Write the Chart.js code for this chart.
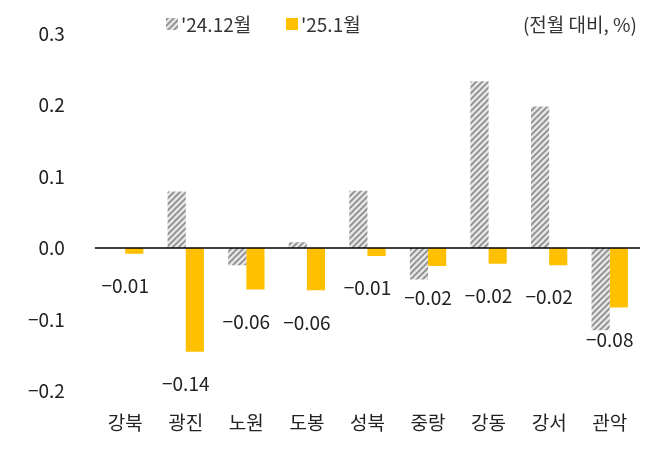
<!DOCTYPE html>
<html><head><meta charset="utf-8">
<script src="https://cdn.jsdelivr.net/npm/chart.js@4"></script>
<style>body{margin:0;background:#fff}#wrap{width:648px;height:460px}</style>
</head><body><div id="wrap"><canvas id="c"></canvas></div>
<script>
const categories = ["강북", "광진", "노원", "도봉", "성북", "중랑", "강동", "강서", "관악"];
const dec24 = [0, 0.079, -0.024, 0.008, 0.08, -0.044, 0.233, 0.198, -0.115];
const jan25 = [-0.008, -0.145, -0.058, -0.059, -0.011, -0.025, -0.022, -0.024, -0.083];
const jan25Labels = ["-0.01", "-0.14", "-0.06", "-0.06", "-0.01", "-0.02", "-0.02", "-0.02", "-0.08"];
const FONT = "'Noto Sans CJK KR', 'Noto Sans', sans-serif";

// diagonal hatch for the gray series
function hatch() {
  const p = document.createElement("canvas");
  p.width = 6; p.height = 6;
  const g = p.getContext("2d");
  g.fillStyle = "#e4e4e4"; g.fillRect(0, 0, 6, 6);
  g.strokeStyle = "#8c8c8c"; g.lineWidth = 1.6;
  g.beginPath();
  g.moveTo(-1, 7); g.lineTo(7, -1);
  g.moveTo(-1, 1); g.lineTo(1, -1);
  g.moveTo(5, 7); g.lineTo(7, 5);
  g.stroke();
  return g.createPattern(p, "repeat");
}
const hatchFill = hatch();

const extras = {
  id: "extras",
  afterDatasetsDraw(chart) {
    const ctx = chart.ctx, x = chart.scales.x, y = chart.scales.y;
    ctx.save();
    // zero line
    ctx.strokeStyle = "#000"; ctx.lineWidth = 1.5;
    ctx.beginPath(); ctx.moveTo(chart.chartArea.left, y.getPixelForValue(0));
    ctx.lineTo(chart.chartArea.right, y.getPixelForValue(0)); ctx.stroke();
    // value labels
    ctx.fillStyle = "#222"; ctx.font = "19px " + FONT;
    ctx.textAlign = "center"; ctx.textBaseline = "middle";
    jan25.forEach((v, i) => {
      ctx.fillText(jan25Labels[i].replace("-", "\u2212"), x.getPixelForValue(i), y.getPixelForValue(v) + 32);
    });
    // legend
    ctx.textAlign = "left";
    ctx.fillStyle = hatchFill; ctx.fillRect(166, 18, 12, 12);
    ctx.fillStyle = "#333"; ctx.fillText("'24.12월", 181, 25);
    ctx.fillStyle = "#ffc000"; ctx.fillRect(286, 18, 12, 12);
    ctx.fillStyle = "#333"; ctx.fillText("'25.1월", 301, 25);
    ctx.textAlign = "right"; ctx.fillText("(전월 대비, %)", 637, 25);
    ctx.restore();
  }
};

new Chart(document.getElementById("c"), {
  type: "bar",
  data: {
    labels: categories,
    datasets: [
      { label: "'24.12월", data: dec24, backgroundColor: hatchFill },
      { label: "'25.1월", data: jan25, backgroundColor: "#ffc000" }
    ]
  },
  options: {
    responsive: true, maintainAspectRatio: false, animation: false,
    layout: { padding: { top: 24, right: 8, left: 6, bottom: 6 } },
    datasets: { bar: { categoryPercentage: 0.6, barPercentage: 1 } },
    plugins: { legend: { display: false }, tooltip: { enabled: false } },
    scales: {
      x: {
        grid: { display: false, drawTicks: false },
        border: { display: false },
        ticks: { color: "#222", font: { family: FONT, size: 19 }, padding: 20 }
      },
      y: {
        min: -0.2, max: 0.3,
        grid: { display: false },
        border: { display: false },
        ticks: {
          stepSize: 0.1, color: "#222", font: { family: FONT, size: 19 }, padding: 22,
          callback: v => (Math.round(v * 10) / 10).toFixed(1).replace("-", "\u2212")
        }
      }
    }
  },
  plugins: [extras]
});
</script></body></html>
